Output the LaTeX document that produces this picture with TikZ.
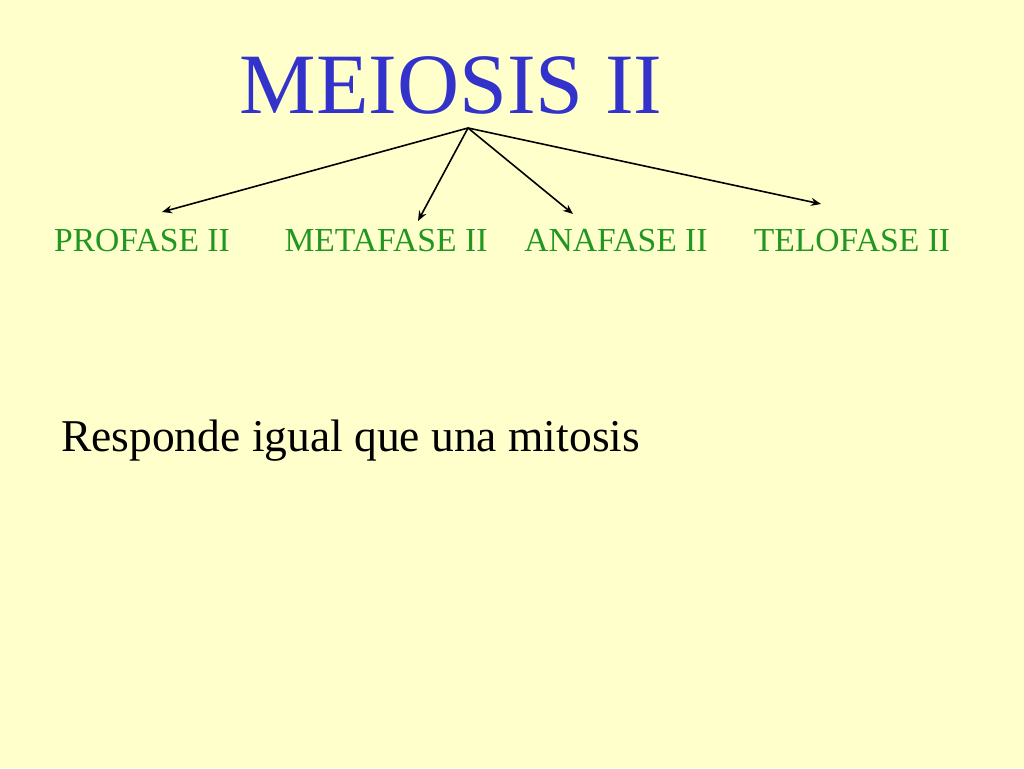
\documentclass[tikz,border=0pt]{standalone}
\usepackage{fontspec}
\setmainfont{Liberation Serif}
\usetikzlibrary{arrows.meta,positioning}
\definecolor{fondo}{RGB}{255,255,204}
\definecolor{titazul}{RGB}{51,51,204}
\definecolor{fasever}{RGB}{34,150,34}

\begin{document}
\begin{tikzpicture}[>={Stealth[length=10pt,width=8pt]},x=1pt,y=1pt,
  fase/.style={text=fasever,font=\fontsize{33.6}{38}\selectfont,inner sep=0pt,anchor=base}]

\fill[fondo] (0,0) rectangle (1024,768);
\useasboundingbox (0,0) rectangle (1024,768);

\node[text=titazul,font=\fontsize{86}{96}\selectfont,inner sep=0pt,anchor=base] (mei) at (451,654) {MEIOSIS II};

\node[fase] (pro)  at (142,516) {PROFASE II};
\node[fase] (meta) at (386,516) {METAFASE II};
\node[fase] (ana)  at (616,516) {ANAFASE II};
\node[fase] (telo) at (852,516) {TELOFASE II};

\coordinate (raiz) at (468,640);
\coordinate (pro-p)  at (162,556);
\coordinate (meta-p) at (418,547);
\coordinate (ana-p)  at (573,554);
\coordinate (telo-p) at (821,564);

\path[->,line width=1.6pt] (raiz) edge (pro-p)
(raiz) edge (meta-p)
(raiz) edge (ana-p)
(raiz) edge (telo-p);

\node[font=\fontsize{45.5}{52}\selectfont,inner sep=0pt,anchor=base west] (resp) at (61,316) {Responde igual que una mitosis};

\end{tikzpicture}
\end{document}
